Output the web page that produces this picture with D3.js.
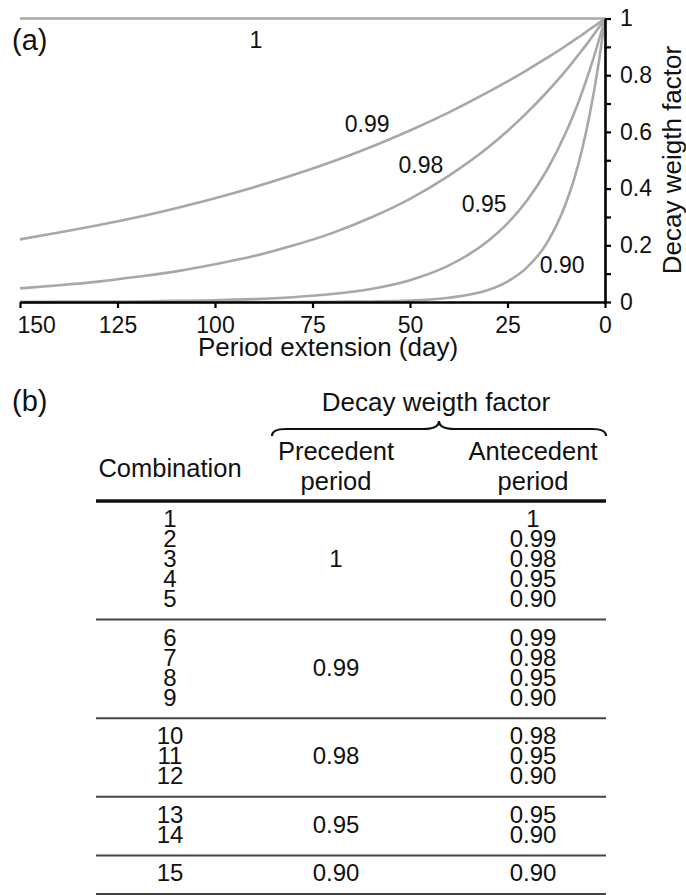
<!DOCTYPE html>
<html>
<head>
<meta charset="utf-8">
<script src="https://cdn.jsdelivr.net/npm/d3@7"></script>
<style>
  html, body { margin: 0; padding: 0; background: #fff; }
  svg { display: block; font-family: "Liberation Sans", Arial, Helvetica, sans-serif; }
</style>
</head>
<body>
<svg id="chart" width="686" height="895"></svg>
<script>
// ---------------- DATA ----------------
// (a) decay weight curves
const days = [0, 2, 4, 6, 8, 10, 15, 20, 25, 30, 40, 50, 60, 70, 80, 90, 100, 110, 120, 130, 140, 150];
const series100 = [1, 1, 1, 1, 1, 1, 1, 1, 1, 1, 1, 1, 1, 1, 1, 1, 1, 1, 1, 1, 1, 1];
const series099 = [1, 0.98, 0.961, 0.941, 0.923, 0.904, 0.86, 0.818, 0.778, 0.74, 0.669, 0.605, 0.547, 0.495, 0.448, 0.405, 0.366, 0.331, 0.299, 0.271, 0.245, 0.221];
const series098 = [1, 0.96, 0.922, 0.886, 0.851, 0.817, 0.739, 0.668, 0.603, 0.545, 0.446, 0.364, 0.298, 0.243, 0.199, 0.162, 0.133, 0.108, 0.089, 0.072, 0.059, 0.048];
const series095 = [1, 0.903, 0.815, 0.735, 0.663, 0.599, 0.463, 0.358, 0.277, 0.215, 0.129, 0.077, 0.046, 0.028, 0.017, 0.01, 0.006, 0.004, 0.002, 0.001, 0.001, 0];
const series090 = [1, 0.81, 0.656, 0.531, 0.43, 0.349, 0.206, 0.122, 0.072, 0.042, 0.015, 0.005, 0.002, 0.001, 0, 0, 0, 0, 0, 0, 0, 0];
const seriesNames = ["1", "0.99", "0.98", "0.95", "0.90"];
// label anchors in data units (day, value)
const labelDays = [89.5, 61, 47.2, 31, 11];
const labelValues = [0.896, 0.6, 0.455, 0.317, 0.102];

const xTickValues = [150, 125, 100, 75, 50, 25, 0];
const yTickValues = [0, 0.1, 0.2, 0.3, 0.4, 0.5, 0.6, 0.7, 0.8, 0.9, 1];
const yTickLabels = ["0", "", "0.2", "", "0.4", "", "0.6", "", "0.8", "", "1"];

// (b) table
const combinations = ["1","2","3","4","5","6","7","8","9","10","11","12","13","14","15"];
const precedent = ["1","1","1","1","1","0.99","0.99","0.99","0.99","0.98","0.98","0.98","0.95","0.95","0.90"];
const antecedent = ["1","0.99","0.98","0.95","0.90","0.99","0.98","0.95","0.90","0.98","0.95","0.90","0.95","0.90","0.90"];

// ---------------- CHART (a) ----------------
const svg = d3.select("#chart");
const x = d3.scaleLinear().domain([150, 0]).range([20, 605]);
const y = d3.scaleLinear().domain([0, 1]).range([302, 18.5]);

const allSeries = [series100, series099, series098, series095, series090];
const line = d3.line()
  .x((d, i) => x(days[i]))
  .y(d => y(d))
  .curve(d3.curveMonotoneX);

const gA = svg.append("g");
gA.selectAll("path.curve")
  .data(allSeries)
  .join("path")
  .attr("class", "curve")
  .attr("d", line)
  .attr("fill", "none")
  .attr("stroke", "#a8a8a8")
  .attr("stroke-width", 2.6);

gA.selectAll("text.clabel")
  .data(seriesNames)
  .join("text")
  .attr("class", "clabel")
  .attr("x", (d, i) => x(labelDays[i]))
  .attr("y", (d, i) => y(labelValues[i]))
  .attr("text-anchor", "middle")
  .attr("font-size", 23)
  .attr("fill", "#111")
  .text(d => d);

// x axis
const xAxis = d3.axisBottom(x)
  .tickValues(xTickValues)
  .tickFormat(d3.format("d"))
  .tickSize(6)
  .tickSizeOuter(0)
  .tickPadding(9);
const gx = gA.append("g").attr("transform", `translate(0,${y(0)})`).call(xAxis);
gx.select(".domain").attr("stroke", "#000").attr("stroke-width", 2.6);
gx.selectAll(".tick line").attr("stroke", "#000").attr("stroke-width", 2.2);
gx.selectAll(".tick text")
  .attr("font-size", 23)
  .attr("fill", "#111");
gx.selectAll(".tick text").filter(d => d === 150)
  .attr("text-anchor", "start")
  .attr("x", -3);

// y axis
const yAxis = d3.axisRight(y)
  .tickValues(yTickValues)
  .tickFormat((d, i) => yTickLabels[i])
  .tickSize(6)
  .tickSizeOuter(0)
  .tickPadding(9);
const gy = gA.append("g").attr("transform", `translate(${x(0)},0)`).call(yAxis);
gy.select(".domain").attr("stroke", "#000").attr("stroke-width", 2.6);
gy.selectAll(".tick line").attr("stroke", "#000").attr("stroke-width", 2.2);
gy.selectAll(".tick text")
  .attr("font-size", 23)
  .attr("fill", "#111");
svg.selectAll("g").attr("font-family", null);

// titles
gA.append("text")
  .attr("x", 328).attr("y", 356)
  .attr("text-anchor", "middle")
  .attr("font-size", 26)
  .attr("fill", "#111")
  .text("Period extension (day)");
gA.append("text")
  .attr("transform", "translate(681,160) rotate(-90)")
  .attr("text-anchor", "middle")
  .attr("font-size", 26)
  .attr("fill", "#111")
  .text("Decay weigth factor");
gA.append("text")
  .attr("x", 12).attr("y", 50)
  .attr("font-size", 29)
  .attr("fill", "#111")
  .text("(a)");

// ---------------- TABLE (b) ----------------
const gB = svg.append("g");
gB.append("text").attr("x", 12).attr("y", 411).attr("font-size", 29).attr("fill", "#111").text("(b)");

const colX = { comb: 170, prec: 336, ante: 533 };
const tableLeft = 96, tableRight = 606;

gB.append("text").attr("x", 436).attr("y", 411).attr("text-anchor", "middle")
  .attr("font-size", 26).attr("fill", "#111").text("Decay weigth factor");

// curly brace (opening downward)
const bL = 272, bR = 606, bC = 439, bEnd = 436, bMid = 429, bTip = 421;
const brace = d3.path();
brace.moveTo(bL, bEnd);
brace.quadraticCurveTo(bL, bMid, bL + 14, bMid);
brace.lineTo(bC - 16, bMid);
brace.quadraticCurveTo(bC, bMid, bC, bTip);
brace.quadraticCurveTo(bC, bMid, bC + 16, bMid);
brace.lineTo(bR - 14, bMid);
brace.quadraticCurveTo(bR, bMid, bR, bEnd);
gB.append("path").attr("d", brace.toString()).attr("fill", "none")
  .attr("stroke", "#111").attr("stroke-width", 2.2);

const hdr = [
  { t: "Combination", x: colX.comb, y: 477 },
  { t: "Precedent", x: colX.prec, y: 460 },
  { t: "period", x: colX.prec, y: 490 },
  { t: "Antecedent", x: colX.ante, y: 460 },
  { t: "period", x: colX.ante, y: 490 }
];
gB.selectAll("text.hdr").data(hdr).join("text").attr("class", "hdr")
  .attr("x", d => d.x).attr("y", d => d.y).attr("text-anchor", "middle")
  .attr("font-size", 25.5).attr("fill", "#111").text(d => d.t);

gB.append("line").attr("x1", tableLeft).attr("x2", tableRight)
  .attr("y1", 501).attr("y2", 501).attr("stroke", "#111").attr("stroke-width", 3.5);

// group rows by precedent value
const groups = d3.groups(d3.range(combinations.length), i => precedent[i]);
const rowPitch = 20, topPad = 26, botPad = 12.6;
let yCur = 501;
const rowY = [];
const groupInfo = [];
groups.forEach(([key, idx]) => {
  const first = yCur + topPad;
  idx.forEach((r, k) => { rowY[r] = first + k * rowPitch; });
  const last = first + (idx.length - 1) * rowPitch;
  groupInfo.push({ key, mid: (first + last) / 2 });
  yCur = last + botPad;
  gB.append("line").attr("x1", tableLeft).attr("x2", tableRight)
    .attr("y1", yCur).attr("y2", yCur).attr("stroke", "#444").attr("stroke-width", 2);
});

gB.selectAll("text.comb").data(combinations).join("text").attr("class", "comb")
  .attr("x", colX.comb).attr("y", (d, i) => rowY[i]).attr("text-anchor", "middle")
  .attr("font-size", 24).attr("fill", "#111").text(d => d);
gB.selectAll("text.ante").data(antecedent).join("text").attr("class", "ante")
  .attr("x", colX.ante).attr("y", (d, i) => rowY[i]).attr("text-anchor", "middle")
  .attr("font-size", 24).attr("fill", "#111").text(d => d);
gB.selectAll("text.prec").data(groupInfo).join("text").attr("class", "prec")
  .attr("x", colX.prec).attr("y", d => d.mid).attr("text-anchor", "middle")
  .attr("font-size", 24).attr("fill", "#111").text(d => d.key);
</script>
</body>
</html>
